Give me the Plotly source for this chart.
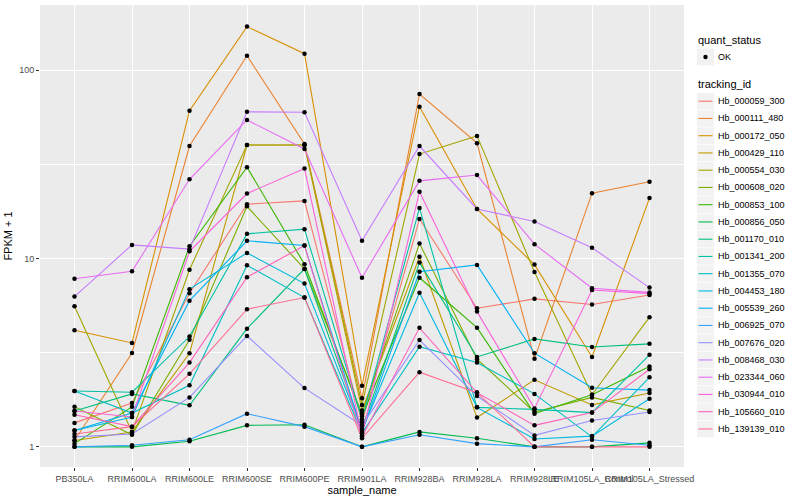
import plotly.graph_objects as go

samples = ["PB350LA", "RRIM600LA", "RRIM600LE", "RRIM600SE", "RRIM600PE", "RRIM901LA",
           "RRIM928BA", "RRIM928LA", "RRIM928LE", "RRIM105LA_Control", "RRIM105LA_Stressed"]

tracking_ids = ["Hb_000059_300", "Hb_000111_480", "Hb_000172_050", "Hb_000429_110", "Hb_000554_030",
                "Hb_000608_020", "Hb_000853_100", "Hb_000856_050", "Hb_001170_010", "Hb_001341_200",
                "Hb_001355_070", "Hb_004453_180", "Hb_005539_260", "Hb_006925_070", "Hb_007676_020",
                "Hb_008468_030", "Hb_023344_060", "Hb_030944_010", "Hb_105660_010", "Hb_139139_010"]

# FPKM + 1 per sample, one list per tracking_id
hb_000059_300 = [1.34, 1.71, 6.53, 19.4, 20.2, 1.35, 16.2, 5.44, 6.1, 5.69, 6.4]
hb_000111_480 = [1.08, 3.15, 39.5, 119, 40.5, 1.81, 74.6, 40.9, 2.93, 22.2, 25.5]
hb_000172_050 = [4.16, 3.56, 60.8, 170, 122, 2.11, 63.9, 18.3, 9.27, 3.0, 20.9]
hb_000429_110 = [1.08, 1.2, 3.14, 40, 40, 1.56, 10.2, 1.43, 2.27, 1.67, 1.93]
hb_000554_030 = [5.57, 1.2, 8.7, 40, 40, 1.67, 35.8, 44.7, 8.48, 1.89, 4.88]
hb_000608_020 = [1.63, 1.16, 3.7, 18.9, 8.8, 1.5, 12.0, 2.92, 1.53, 1.83, 1.56]
hb_000853_100 = [1.04, 1.63, 11.6, 30.5, 9.3, 1.45, 7.9, 4.29, 1.5, 1.89, 2.67]
hb_000856_050 = [1.0, 1.0, 1.07, 1.3, 1.31, 1.0, 1.2, 1.11, 1.0, 1.0, 1.05]
hb_001170_010 = [1.55, 1.91, 1.66, 4.24, 8.8, 1.25, 9.5, 3.0, 3.74, 3.39, 3.52]
hb_001341_200 = [1.98, 1.95, 3.85, 13.5, 14.3, 1.4, 18.5, 1.62, 1.58, 1.52, 3.08]
hb_001355_070 = [1.98, 1.51, 2.12, 9.2, 6.2, 1.18, 3.4, 2.8, 1.91, 1.13, 2.34]
hb_004453_180 = [1.22, 1.44, 6.87, 10.7, 7.35, 1.22, 6.58, 1.62, 1.1, 1.14, 1.8]
hb_005539_260 = [1.22, 1.51, 5.97, 12.4, 11.7, 1.2, 8.5, 9.24, 3.14, 2.06, 2.0]
hb_006925_070 = [1.0, 1.02, 1.09, 1.5, 1.28, 1.0, 1.16, 1.04, 1.0, 1.09, 1.02]
hb_007676_020 = [1.13, 1.17, 1.83, 3.88, 2.05, 1.3, 3.69, 1.86, 1.15, 1.38, 1.53]
hb_008468_030 = [6.27, 11.8, 11.2, 60, 59.7, 12.4, 39.5, 18.3, 15.7, 11.4, 7.0]
hb_023344_060 = [7.8, 8.55, 26.3, 54.3, 38.1, 7.9, 25.8, 27.7, 11.9, 6.95, 6.6]
hb_030944_010 = [1.55, 1.44, 10.9, 22.1, 30.0, 1.15, 22.6, 5.22, 1.6, 6.8, 6.5]
hb_105660_010 = [1.48, 1.28, 2.8, 7.95, 11.7, 1.13, 4.28, 1.94, 1.3, 1.52, 2.58]
hb_139139_010 = [1.17, 1.28, 2.44, 5.38, 6.2, 1.11, 2.49, 1.94, 1.0, 1.0, 1.0]

series = [hb_000059_300, hb_000111_480, hb_000172_050, hb_000429_110, hb_000554_030,
          hb_000608_020, hb_000853_100, hb_000856_050, hb_001170_010, hb_001341_200,
          hb_001355_070, hb_004453_180, hb_005539_260, hb_006925_070, hb_007676_020,
          hb_008468_030, hb_023344_060, hb_030944_010, hb_105660_010, hb_139139_010]

colors = ["#F8766D", "#EA8331", "#D89000", "#C09B00", "#A3A500", "#7CAE00", "#39B600", "#00BB4E",
          "#00BF7D", "#00C1A3", "#00BFC4", "#00BAE0", "#00B0F6", "#35A2FF", "#9590FF", "#C77CFF",
          "#E76BF3", "#FA62DB", "#FF62BC", "#FF6C91"]

FONT = "Liberation Sans, Arial, Helvetica, sans-serif"

W, H = 800, 500
ML, MR, MT, MB = 40, 116, 5, 33
PW, PH = W - ML - MR, H - MT - MB


def fx(px):
    return (px - ML) / PW


def fy(py):
    return (H - MB - py) / PH


fig = go.Figure()

for name, vals, col in zip(tracking_ids, series, colors):
    fig.add_trace(go.Scatter(
        x=samples, y=vals, mode="lines", name=name,
        line=dict(color=col, width=1.1), showlegend=False,
    ))

px, py = [], []
for vals in series:
    px.extend(samples)
    py.extend(vals)
fig.add_trace(go.Scatter(
    x=px, y=py, mode="markers", name="OK",
    marker=dict(color="black", size=4.5, symbol="circle"), showlegend=False,
))

# ---- manual ggplot-style legend ----
shapes, annots = [], []
KX0, KX1 = 697, 714
annots.append(dict(x=fx(696), y=fy(40), xref="paper", yref="paper", text="quant_status",
                   showarrow=False, xanchor="left", yanchor="middle",
                   font=dict(size=11, color="black")))
shapes.append(dict(type="rect", xref="paper", yref="paper", x0=fx(KX0), x1=fx(KX1),
                   y0=fy(48.5), y1=fy(65.5), fillcolor="#F2F2F2", line=dict(width=0), layer="above"))
shapes.append(dict(type="circle", xref="paper", yref="paper", x0=fx(703.3), x1=fx(707.7),
                   y0=fy(54.8), y1=fy(59.2), fillcolor="black", line=dict(width=0), layer="above"))
annots.append(dict(x=fx(716), y=fy(57), xref="paper", yref="paper", text="OK",
                   showarrow=False, xanchor="left", yanchor="middle",
                   font=dict(size=9, color="black")))
annots.append(dict(x=fx(696), y=fy(84.5), xref="paper", yref="paper", text="tracking_id",
                   showarrow=False, xanchor="left", yanchor="middle",
                   font=dict(size=11, color="black")))
for i, (name, col) in enumerate(zip(tracking_ids, colors)):
    yc = 101.2 + i * 17.25
    shapes.append(dict(type="rect", xref="paper", yref="paper", x0=fx(KX0), x1=fx(KX1),
                       y0=fy(yc - 8.3), y1=fy(yc + 8.3), fillcolor="#F2F2F2",
                       line=dict(width=0), layer="above"))
    shapes.append(dict(type="line", xref="paper", yref="paper", x0=fx(698.5), x1=fx(712.5),
                       y0=fy(yc), y1=fy(yc), line=dict(color=col, width=1.1), layer="above"))
    annots.append(dict(x=fx(716), y=fy(yc), xref="paper", yref="paper", text=name,
                       showarrow=False, xanchor="left", yanchor="middle",
                       font=dict(size=9, color="black")))

fig.update_layout(
    width=W, height=H,
    margin=dict(l=ML, r=MR, t=MT, b=MB),
    paper_bgcolor="white", plot_bgcolor="#EBEBEB",
    font=dict(family=FONT, size=9, color="#4D4D4D"),
    showlegend=False,
    shapes=shapes, annotations=annots,
)

fig.update_xaxes(
    type="category", categoryorder="array", categoryarray=samples,
    range=[-0.6, len(samples) - 0.4],
    showgrid=True, gridcolor="white", gridwidth=1.1,
    ticks="outside", ticklen=3, tickcolor="#333333", tickwidth=1,
    tickangle=0, tickfont=dict(size=9, color="#4D4D4D"),
    title=dict(text="sample_name", font=dict(size=11, color="black"), standoff=2),
    zeroline=False, showline=False, automargin=False,
)

fig.update_yaxes(
    type="log", range=[-0.107, 2.345],
    tickvals=[1, 10, 100], ticktext=["1", "10", "100"],
    showgrid=True, gridcolor="white", gridwidth=1.1,
    minor=dict(tickvals=[3.1623, 31.623], showgrid=True, gridcolor="white", gridwidth=0.5, ticks=""),
    ticks="outside", ticklen=3, tickcolor="#333333", tickwidth=1,
    tickfont=dict(size=9, color="#4D4D4D"),
    title=dict(text="FPKM + 1", font=dict(size=11, color="black"), standoff=4),
    zeroline=False, showline=False, automargin=False,
)

fig.write_html("out.html", config=dict(displayModeBar=False),
               post_script="document.body.style.margin='0';")
